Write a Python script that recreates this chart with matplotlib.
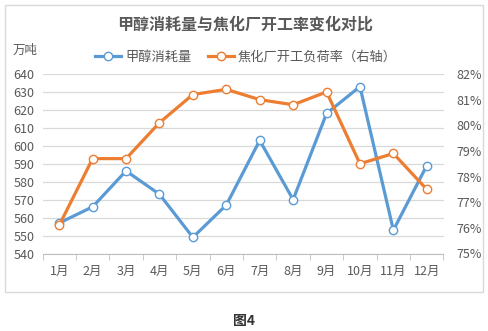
import matplotlib
matplotlib.use("Agg")
import matplotlib.pyplot as plt
from matplotlib.patches import Rectangle
from matplotlib.ticker import FuncFormatter, FixedLocator

plt.rcParams['font.family'] = ['Noto Sans CJK SC', 'DejaVu Sans']

months = ['1月', '2月', '3月', '4月', '5月', '6月', '7月', '8月', '9月', '10月', '11月', '12月']
methanol = [557, 566, 586, 573, 549, 567, 603, 570, 618, 633, 553, 589]
coking_rate = [76.1, 78.7, 78.7, 80.1, 81.2, 81.4, 81.0, 80.8, 81.3, 78.5, 78.9, 77.5]
left_ticks = [540, 550, 560, 570, 580, 590, 600, 610, 620, 630, 640]
right_ticks = [75, 76, 77, 78, 79, 80, 81, 82]

title = '甲醇消耗量与焦化厂开工率变化对比'
series_names = ['甲醇消耗量', '焦化厂开工负荷率（右轴）']
unit_label = '万吨'
caption = '图4'

BLUE = '#5B9BD5'
ORANGE = '#ED7D31'
TXT = '#595959'
GRID = '#D9D9D9'

fig = plt.figure(figsize=(4.88, 3.31), dpi=100)
fig.patch.set_facecolor('white')

# chart border
fig.patches.append(Rectangle((5/488, 1-292/331), (483-5)/488, (292-5)/331,
                             transform=fig.transFigure, fill=False,
                             edgecolor=GRID, linewidth=1.0))

ax = fig.add_axes([42.5/488, 1-253.5/331, 401/488, 179.5/331])
x = list(range(len(months)))
l1, = ax.plot(x, methanol, color=BLUE, lw=2.3, marker='o', ms=6,
              mfc='white', mec=BLUE, mew=1.0, zorder=3, label=series_names[0])
ax.set_ylim(540, 640)
ax.set_xlim(-0.5, 11.5)
ax.yaxis.set_major_locator(FixedLocator(left_ticks))
ax.grid(axis='y', color=GRID, lw=0.9)
ax.set_axisbelow(True)
for s in ['top', 'right', 'left']:
    ax.spines[s].set_visible(False)
ax.spines['bottom'].set_color('#BFBFBF')
ax.set_xticks(x)
ax.set_xticklabels(months)
ax.set_xticks([i - 0.5 for i in range(13)], minor=True)
ax.tick_params(axis='x', which='major', length=0, pad=8, labelsize=9, labelcolor=TXT)
ax.tick_params(axis='x', which='minor', length=4, color='#BFBFBF', direction='out')
ax.tick_params(axis='y', length=0, pad=6, labelsize=9, labelcolor=TXT)

ax2 = ax.twinx()
l2, = ax2.plot(x, coking_rate, color=ORANGE, lw=2.3, marker='o', ms=6,
               mfc='white', mec=ORANGE, mew=1.0, zorder=3, label=series_names[1])
ax2.set_ylim(75, 82)
ax2.yaxis.set_major_locator(FixedLocator(right_ticks))
ax2.yaxis.set_major_formatter(FuncFormatter(lambda v, p: f'{v:.0f}%'))
for s in ['top', 'right', 'left', 'bottom']:
    ax2.spines[s].set_visible(False)
ax2.tick_params(axis='y', length=0, pad=9, labelsize=9, labelcolor=TXT)

fig.text(245/488, 1-25/331, title, ha='center', va='center', fontsize=11.5,
         fontweight='bold', color=TXT)
fig.text(13/488, 1-50/331, unit_label, ha='left', va='center', fontsize=9, color=TXT)

leg = fig.legend(handles=[l1, l2], loc='center', bbox_to_anchor=(246/488, 1-57/331),
                 ncol=2, frameon=False, fontsize=9.5, handlelength=2.0,
                 columnspacing=1.2, handletextpad=0.3)
for t in leg.get_texts():
    t.set_color(TXT)

fig.text(244/488, 1-321/331, caption, ha='center', va='center', fontsize=10,
         fontweight='bold', color='#333333')

fig.savefig('out.png', dpi=100)
